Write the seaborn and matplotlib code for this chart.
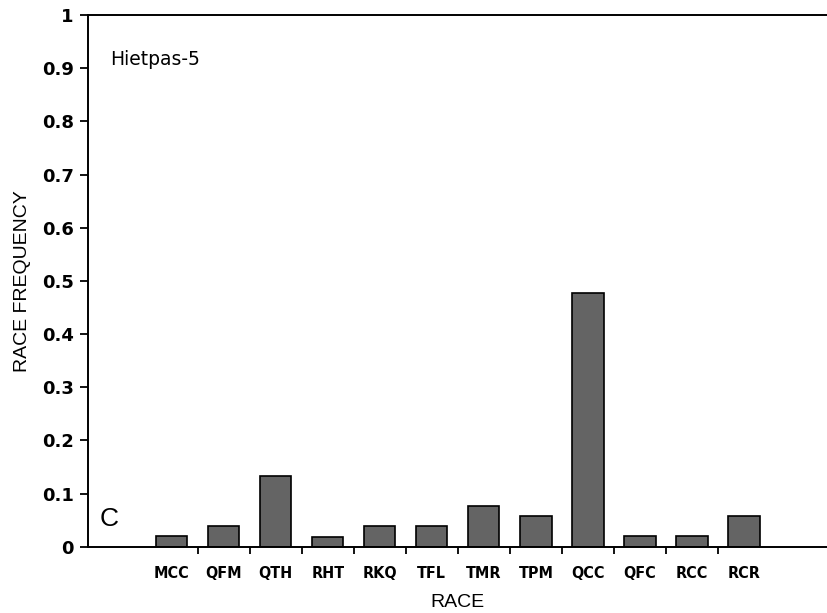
import matplotlib
matplotlib.use("Agg")
import matplotlib.pyplot as plt
import seaborn as sns
import pandas as pd
import numpy as np

races = ["MCC", "QFM", "QTH", "RHT", "RKQ", "TFL", "TMR", "TPM", "QCC", "QFC", "RCC", "RCR"]
frequency = [0.021, 0.039, 0.134, 0.019, 0.040, 0.039, 0.077, 0.058, 0.478, 0.021, 0.020, 0.058]
y_ticks = [0, 0.1, 0.2, 0.3, 0.4, 0.5, 0.6, 0.7, 0.8, 0.9, 1]
y_tick_labels = ["0", "0.1", "0.2", "0.3", "0.4", "0.5", "0.6", "0.7", "0.8", "0.9", "1"]

sns.set_style("white")
plt.rcParams["font.family"] = ["Liberation Sans", "DejaVu Sans"]
plt.rcParams["text.color"] = "black"
plt.rcParams["axes.labelcolor"] = "black"
plt.rcParams["xtick.color"] = "black"
plt.rcParams["ytick.color"] = "black"

df = pd.DataFrame({"race": races, "freq": frequency})

fig = plt.figure(figsize=(8.28, 6.13), dpi=100)
ax = fig.add_axes([0.106, 0.108, 0.894, 0.8675])

sns.barplot(data=df, x="race", y="freq", order=races, color="#646464",
            edgecolor="black", linewidth=1.2, width=0.6, saturation=1, ax=ax)

ax.set_xlim(-1.615, 12.615)
ax.set_ylim(0, 1)
ax.set_yticks(y_ticks)
ax.set_yticklabels(y_tick_labels, fontsize=13, fontweight="bold", family="DejaVu Sans")
ax.tick_params(axis="y", direction="out", length=6, width=1.3, pad=4, left=True)

ax.set_xticks(range(len(races)))
ax.set_xticklabels(races, fontsize=11.5, fontweight="bold",
                   family="DejaVu Sans", fontstretch="condensed")
ax.tick_params(axis="x", which="major", length=0, pad=14)
ax.set_xticks(np.arange(len(races) - 1) + 0.5, minor=True)
ax.tick_params(axis="x", which="minor", direction="out", length=5, width=1.3, bottom=True)

ax.set_xlabel("RACE", fontsize=14, labelpad=9)
ax.set_ylabel("RACE FREQUENCY", fontsize=14, labelpad=8)

for side in ["left", "bottom", "top"]:
    ax.spines[side].set_visible(True)
    ax.spines[side].set_linewidth(1.4)
    ax.spines[side].set_color("black")
ax.spines["right"].set_visible(False)

ax.text(0.03, 0.935, "Hietpas-5", transform=ax.transAxes, fontsize=13.5,
        va="top", ha="left", family="DejaVu Sans")
ax.text(0.016, 0.03, "C", transform=ax.transAxes, fontsize=19, va="bottom", ha="left")

fig.savefig("out.png", dpi=100)
